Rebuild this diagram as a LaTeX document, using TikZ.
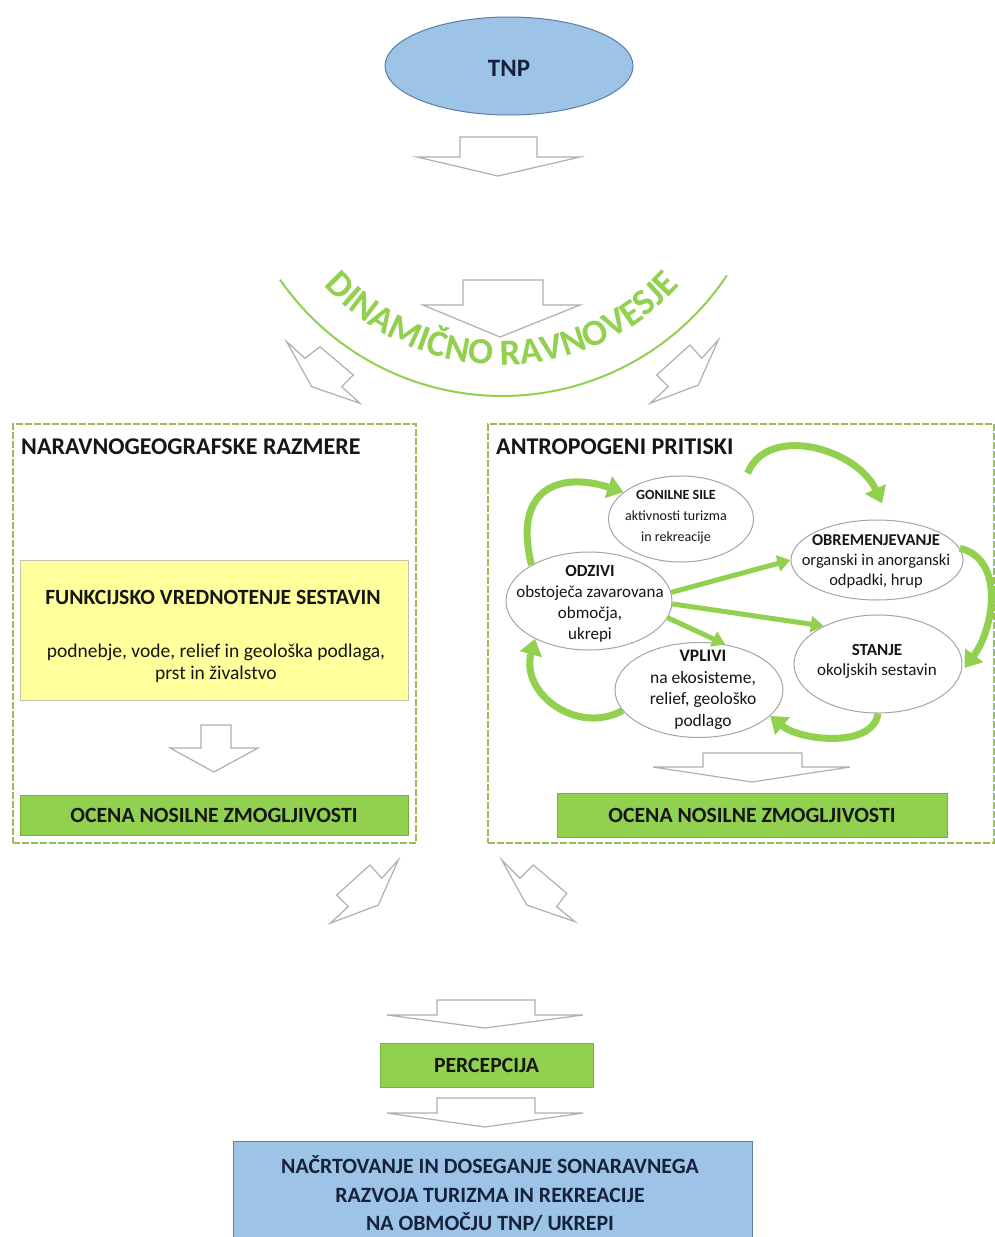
\documentclass[tikz,border=0pt]{standalone}
\usepackage{fontspec}
\setmainfont{Carlito}
\usetikzlibrary{shapes.geometric,arrows.meta,decorations.text,calc}
\definecolor{lgreen}{RGB}{146,208,80}
\definecolor{bargreen}{RGB}{146,208,80}
\definecolor{baredge}{RGB}{120,175,65}
\definecolor{dashgreen}{RGB}{155,187,89}
\definecolor{lblue}{RGB}{157,195,230}
\definecolor{tnpedge}{RGB}{95,125,165}
\definecolor{navy}{RGB}{22,34,60}
\definecolor{lyellow}{RGB}{255,255,155}
\definecolor{ygrey}{RGB}{195,195,175}
\definecolor{agrey}{RGB}{175,175,175}
\definecolor{egrey}{RGB}{165,165,165}
\definecolor{txt}{RGB}{22,22,22}
\newcommand\dnarrow[8]{\draw[blockarr] (#1,#3) -- (#2,#3) -- (#2,#4) -- (#6,#4) -- (#7,#8) -- (#5,#4) -- (#1,#4) -- cycle;}
\tikzset{
 blockarr/.style={draw=agrey, fill=white, line width=1.2pt, line join=miter},
 dbox/.style={draw=dashgreen, line width=2pt, dash pattern=on 7pt off 2pt, rectangle, inner sep=0pt},
 bar/.style={draw=baredge, fill=bargreen, rectangle, inner sep=0pt, font=\bfseries\fontsize{21.7}{26}\selectfont, text=txt},
 bub/.style={ellipse, draw=egrey, fill=white, line width=1pt, inner sep=0pt},
 bubtext/.style={align=center, text=txt, inner sep=0pt},
 garrow/.style={draw=lgreen, line width=7pt, -{Triangle[length=16pt,width=22pt]}},
 sarrow/.style={draw=lgreen, line width=5pt, -{Triangle[length=13pt,width=16pt]}},
}
\begin{document}
\begin{tikzpicture}[x=1pt,y=-1pt]
\useasboundingbox (0,0) rectangle (995,1237);
\fill[white] (0,0) rectangle (995,1237);

% TNP
\node[ellipse, draw=tnpedge, fill=lblue, line width=1pt, minimum width=248pt, minimum height=98pt, inner sep=0pt] (tnp) at (509,66) {};
\node[font=\bfseries\fontsize{25}{30}\selectfont, text=navy, inner sep=0pt] (tnpT) at (509,68) {TNP};

\dnarrow{460}{537}{137}{157}{417}{580}{498}{176}

% arc
\coordinate (arcc) at (502,126);
\draw[lgreen, line width=2pt] (arcc) ++(145.3:270) arc[start angle=145.3, end angle=33.6, radius=270];
\path[decorate, decoration={text along path, text align=center,
  text={|\fontsize{37}{37}\selectfont\bfseries\color{lgreen}|DINAMIČNO RAVNOVESJE}}]
  (arcc) ++(150:239) arc[start angle=150, end angle=30, radius=239];

\dnarrow{463}{543}{280}{305}{423}{580}{500}{337}

% diagonal arrows (top)
\draw[blockarr] (286.7,341.7) -- (305,358.3) -- (320,346.7) -- (353.3,375) -- (341.7,386.7) -- (360,403.3) -- (311.7,386.7) -- cycle;
\draw[blockarr] (718.3,340) -- (701.7,358.3) -- (690,345) -- (656.7,375) -- (668.3,386.7) -- (650,403.3) -- (698.3,385) -- cycle;

% boxes
\node[dbox, anchor=north west, minimum width=403pt, minimum height=419pt] (lbox) at (12,423) {};
\node[dbox, anchor=north west, minimum width=506pt, minimum height=419pt] (rbox) at (487,423) {};
\node[anchor=west, inner sep=0pt, font=\bfseries\fontsize{24}{28}\selectfont, text=txt] (ltitle) at (21,447) {NARAVNOGEOGRAFSKE RAZMERE};
\node[anchor=west, inner sep=0pt, font=\bfseries\fontsize{24}{28}\selectfont, text=txt] (rtitle) at (496,447) {ANTROPOGENI PRITISKI};

% left content
\node[rectangle, draw=ygrey, fill=lyellow, minimum width=388pt, minimum height=140pt, inner sep=0pt] (ybox) at (214,630) {};
\node[font=\bfseries\fontsize{21.7}{26}\selectfont, text=txt, inner sep=0pt] (ytitle) at (213,597) {FUNKCIJSKO VREDNOTENJE SESTAVIN};
\node[align=center, font=\fontsize{19.5}{22}\selectfont, text=txt, inner sep=0pt] (ybody) at (216,663) {podnebje, vode, relief in geološka podlaga,\\prst in živalstvo};
\dnarrow{201}{231}{725}{748}{170}{258}{214}{772}
\node[bar, minimum width=388pt, minimum height=40pt] (lbar) at (214,815) {OCENA NOSILNE ZMOGLJIVOSTI};

% right content: ellipses
\node[bub, minimum width=145pt, minimum height=86pt] (gon) at (681,519) {};
\node[bub, minimum width=172pt, minimum height=80pt] (obr) at (877,560) {};
\node[bub, minimum width=166pt, minimum height=98pt] (odz) at (589,601) {};
\node[bub, minimum width=168pt, minimum height=95pt] (vpl) at (699,690) {};
\node[bub, minimum width=168pt, minimum height=98pt] (sta) at (878,664) {};

\node[bubtext, font=\fontsize{14}{21}\selectfont] (gonT) at (676,517) {\textbf{GONILNE SILE}\\aktivnosti turizma\\in rekreacije};
\node[bubtext, font=\fontsize{16.5}{20}\selectfont] (obrT) at (876,561) {\textbf{OBREMENJEVANJE}\\organski in anorganski\\odpadki, hrup};
\node[bubtext, font=\fontsize{17}{21}\selectfont] (odzT) at (590,604) {\textbf{ODZIVI}\\obstoječa zavarovana\\območja,\\ukrepi};
\node[bubtext, font=\fontsize{17.5}{21.5}\selectfont] (vplT) at (703,690) {\textbf{VPLIVI}\\na ekosisteme,\\relief, geološko\\podlago};
\node[bubtext, font=\fontsize{17}{20}\selectfont] (staT) at (877,661) {\textbf{STANJE}\\okoljskih sestavin};

% green arrows
\draw[garrow] (odz.148) .. controls +(-20,-80) and +(-60,-20) .. (gon.155);
\draw[garrow] ($(gon.north east)+(15,-15)$) .. controls +(20,-50) and +(-25,-55) .. ($(obr.north)+(5,-16)$);
\draw[garrow] (obr.8) .. controls +(45,10) and +(30,-40) .. ($(sta.east)+(2,4)$);
\draw[garrow] (sta.south) .. controls +(-5,35) and +(30,25) .. (vpl.-20);
\draw[garrow] (vpl.195) .. controls +(-45,25) and +(-15,55) .. (odz.215);
\draw[sarrow] (odz.6) -- (obr.west);
\draw[sarrow] (odz.-2) -- (sta.145);
\draw[sarrow] (odz.-12) -- (vpl.60);

\dnarrow{703}{802}{753}{767}{653}{850}{752}{782}
\node[bar, minimum width=390pt, minimum height=44pt] (rbar) at (752,815) {OCENA NOSILNE ZMOGLJIVOSTI};

% diagonal arrows (bottom)
\draw[blockarr] (398.3,860) -- (381.7,878.3) -- (370,865) -- (336.7,895) -- (348.3,906.7) -- (330,923.3) -- (378.3,905) -- cycle;
\draw[blockarr] (501.7,860) -- (520,878.3) -- (533.3,865) -- (566.7,893.3) -- (556.7,906.7) -- (575,921.7) -- (526.7,905) -- cycle;

% bottom
\dnarrow{437}{535}{1000}{1015}{387}{583}{485}{1028}
\node[bar, minimum width=213pt, minimum height=44pt] (perc) at (486.5,1065) {PERCEPCIJA};
\dnarrow{437}{535}{1098}{1113}{387}{583}{485}{1127}
\node[rectangle, draw=tnpedge, fill=lblue, minimum width=519pt, minimum height=100pt, anchor=north, inner sep=0pt] (goal) at (492.5,1141) {};
\node[align=center, font=\bfseries\fontsize{21.8}{28.5}\selectfont, text=navy, inner sep=0pt] (goalT) at (490,1194) {NAČRTOVANJE IN DOSEGANJE SONARAVNEGA\\RAZVOJA TURIZMA IN REKREACIJE\\NA OBMOČJU TNP/ UKREPI};
\end{tikzpicture}
\end{document}
